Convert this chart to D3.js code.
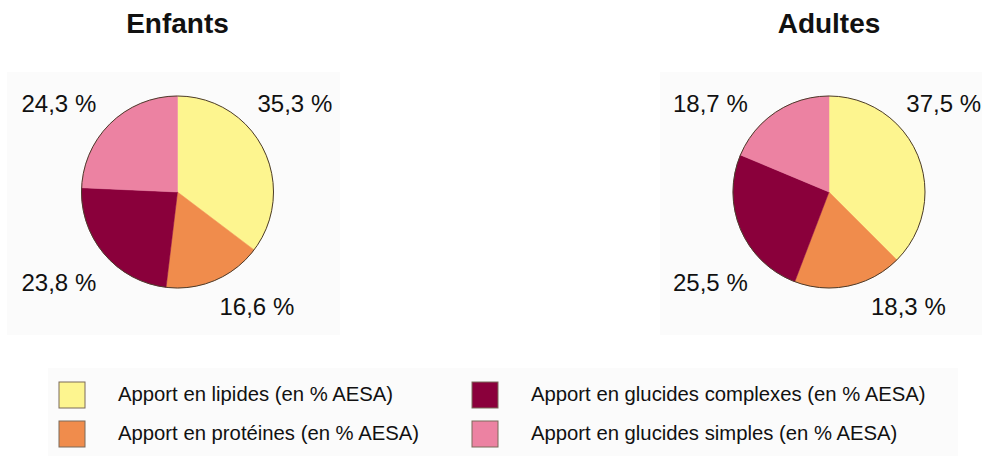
<!DOCTYPE html>
<html>
<head>
<meta charset="utf-8">
<script src="https://cdn.jsdelivr.net/npm/d3@7"></script>
<style>
  body { margin: 0; background: #fff; }
  svg text { font-family: "Liberation Sans", Arial, sans-serif; fill: #111; }
</style>
</head>
<body>
<div id="chart"></div>
<script>
/*
 * Deux camemberts : Enfants / Adultes
 */

var categories = ["Apport en lipides (en % AESA)", "Apport en protéines (en % AESA)",
    "Apport en glucides complexes (en % AESA)", "Apport en glucides simples (en % AESA)"];
var groups = ["Enfants", "Adultes"];
var enfantsValues = [35.3, 16.6, 23.8, 24.3];
var adultesValues = [37.5, 18.3, 25.5, 18.7];

var width = 982;
var height = 456;
var radius = 96;
var color = d3.scaleOrdinal()
    .domain(categories)
    .range(["#fdf58f", "#f08c4c", "#8a003b", "#ec82a2"]);

// label anchor offsets from pie centre, per slice (yellow, orange, dark, pink)
var labelOffsets = [[80, -80], [42, 123], [-156, 99], [-156, -80]];

var svg = d3.select('#chart')
    .append('svg')
    .attr('width', width)
    .attr('height', height);

// light panels behind pies and legend
svg.append('rect').attr('x', 7).attr('y', 72).attr('width', 333).attr('height', 263).attr('fill', '#fbfbfb');
svg.append('rect').attr('x', 660).attr('y', 72).attr('width', 322).attr('height', 263).attr('fill', '#fbfbfb');
svg.append('rect').attr('x', 48).attr('y', 368).attr('width', 910).attr('height', 88).attr('fill', '#fbfbfb');

var xCenter = d3.scalePoint()
    .domain(groups)
    .range([177.5, 829]);

var pie = d3.pie()
    .value(function (d) { return d; })
    .sort(null);

var arc = d3.arc()
    .innerRadius(0)
    .outerRadius(radius);

var fmt = function (v) { return d3.format('.1f')(v).replace('.', ',') + ' %'; };

function drawPie(name, values) {
    var cx = xCenter(name);
    var cy = 192;
    var g = svg.append('g')
        .attr('transform', 'translate(' + cx + ',' + cy + ')');

    g.selectAll('path')
        .data(pie(values))
        .enter()
        .append('path')
        .attr('d', arc)
        .attr('fill', function (d, i) { return color(categories[i]); })
        .attr('stroke', function (d, i) { return color(categories[i]); })
        .attr('stroke-width', 0.5);

    g.append('circle')
        .attr('r', radius)
        .attr('fill', 'none')
        .attr('stroke', '#4b3b2b')
        .attr('stroke-width', 1);

    g.selectAll('.pct')
        .data(values)
        .enter()
        .append('text')
        .attr('class', 'pct')
        .attr('y', function (d, i) { return labelOffsets[i][1]; })
        .style('font-size', '24px')
        .text(fmt)
        .attr('x', function (d, i) {
            // keep the label inside the page
            var w = this.getComputedTextLength();
            return Math.min(labelOffsets[i][0], width - cx - w - 1);
        });

    svg.append('text')
        .attr('x', cx)
        .attr('y', 33)
        .attr('text-anchor', 'middle')
        .style('font-size', '28px')
        .style('font-weight', 'bold')
        .text(name);
}

drawPie('Enfants', enfantsValues);
drawPie('Adultes', adultesValues);

// legend, two columns
var legend = svg.selectAll('.legend')
    .data(categories)
    .enter()
    .append('g')
    .attr('class', 'legend')
    .attr('transform', function (d, i) {
        var col = Math.floor(i / 2);
        var row = i % 2;
        return 'translate(' + (59 + col * 413) + ',' + (382 + row * 39) + ')';
    });

legend.append('rect')
    .attr('width', 26)
    .attr('height', 26)
    .attr('fill', color)
    .attr('stroke', '#7a6a5a')
    .attr('stroke-width', 1);

legend.append('text')
    .attr('x', 59)
    .attr('y', 19)
    .style('font-size', '20.3px')
    .text(function (d) { return d; });
</script>
</body>
</html>
